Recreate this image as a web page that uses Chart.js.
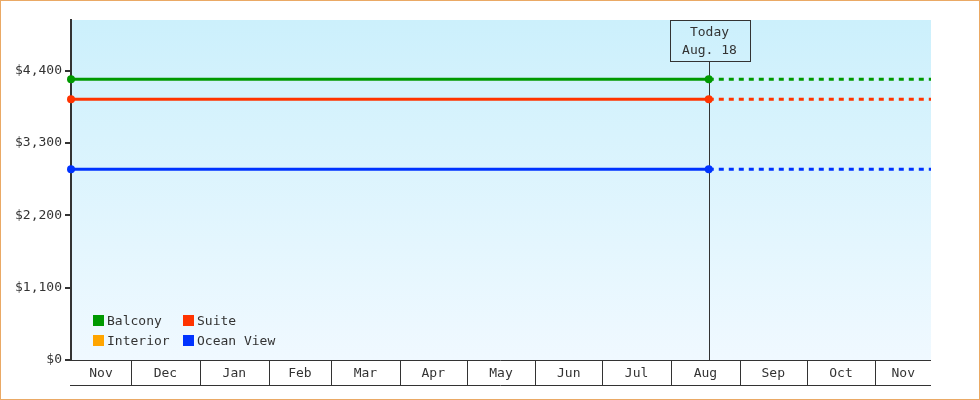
<!DOCTYPE html>
<html>
<head>
<meta charset="utf-8">
<script src="https://cdn.jsdelivr.net/npm/chart.js@4.4.1/dist/chart.umd.min.js"></script>
<style>
html, body { margin: 0; padding: 0; background: #fff; }
#wrap { width: 980px; height: 400px; box-sizing: border-box; border: 1px solid #eaa965; }
canvas { display: block; }
</style>
</head>
<body>
<div id="wrap"><canvas id="priceChart" width="978" height="398"></canvas></div>
<script>
// month strip along the bottom
const monthLabels = ['Nov', 'Dec', 'Jan', 'Feb', 'Mar', 'Apr', 'May', 'Jun', 'Jul', 'Aug', 'Sep', 'Oct', 'Nov'];
const monthStarts = ['2024-11-01', '2024-12-01', '2025-01-01', '2025-02-01', '2025-03-01', '2025-04-01',
    '2025-05-01', '2025-06-01', '2025-07-01', '2025-08-01', '2025-09-01', '2025-10-01', '2025-11-01'];

const rangeStart = '2024-11-04';
const todayDate = '2025-08-18';
const rangeEnd = '2025-11-26';
const todayLabel = ['Today', 'Aug. 18'];

const seriesNames = ['Balcony', 'Suite', 'Interior', 'Ocean View'];
const seriesPrices = [4268, 3964, null, 2900];
const seriesColors = ['#009900', '#ff3300', '#ffa500', '#0033ff'];

const yTicks = [0, 1100, 2200, 3300, 4400];
const yMax = 5170;

const FONT = '13px "DejaVu Sans Mono", monospace';
const INK = '#333';

function dayNum(s) {
    const p = s.split('-').map(Number);
    return Date.UTC(p[0], p[1] - 1, p[2]) / 86400000;
}

const xMin = dayNum(rangeStart);
const xToday = dayNum(todayDate);
const xMax = dayNum(rangeEnd);

const datasets = seriesNames.map((name, i) => ({
    label: name,
    data: seriesPrices[i] == null ? [] : [
        { x: xMin, y: seriesPrices[i] },
        { x: xToday, y: seriesPrices[i] },
        { x: xMax, y: seriesPrices[i] }
    ],
    borderColor: seriesColors[i],
    backgroundColor: seriesColors[i],
    borderWidth: 3,
    pointRadius: [4, 4, 0],
    pointHoverRadius: 4,
    pointBorderWidth: 0,
    clip: false,
    segment: {
        borderDash: ctx => ctx.p0DataIndex >= 1 ? [5, 5] : undefined
    }
}));

const backdrop = {
    id: 'backdrop',
    beforeDraw(chart) {
        const { ctx, chartArea: a } = chart;
        const g = ctx.createLinearGradient(0, a.top, 0, a.bottom);
        g.addColorStop(0, '#ccf0fc');
        g.addColorStop(1, '#f0f9ff');
        ctx.save();
        ctx.fillStyle = g;
        ctx.fillRect(a.left, a.top, a.right - a.left, a.bottom - a.top);
        ctx.restore();
    },
    beforeDatasetsDraw(chart) {
        const { ctx, chartArea: a } = chart;
        const x = Math.round(chart.scales.x.getPixelForValue(xToday)) + 0.5;
        const boxW = 80, boxH = 41;
        ctx.save();
        ctx.strokeStyle = INK;
        ctx.lineWidth = 1;
        ctx.strokeRect(Math.round(x - boxW / 2) + 0.5, a.top + 0.5, boxW, boxH);
        ctx.beginPath();
        ctx.moveTo(x, a.top + boxH);
        ctx.lineTo(x, a.bottom);
        ctx.stroke();
        ctx.fillStyle = INK;
        ctx.font = FONT;
        ctx.textAlign = 'center';
        ctx.textBaseline = 'middle';
        ctx.fillText(todayLabel[0], x, a.top + 13);
        ctx.fillText(todayLabel[1], x, a.top + 31);
        ctx.restore();
    },
    afterDraw(chart) {
        const { ctx, chartArea: a } = chart;
        const xs = chart.scales.x;
        const stripH = 25;
        ctx.save();
        ctx.strokeStyle = INK;
        ctx.lineWidth = 1;
        ctx.beginPath();
        ctx.moveTo(a.left - 1, Math.round(a.bottom) + 0.5);
        ctx.lineTo(a.right, Math.round(a.bottom) + 0.5);
        ctx.moveTo(a.left - 1, Math.round(a.bottom + stripH) + 0.5);
        ctx.lineTo(a.right, Math.round(a.bottom + stripH) + 0.5);
        ctx.stroke();

        ctx.fillStyle = INK;
        ctx.font = FONT;
        ctx.textAlign = 'center';
        ctx.textBaseline = 'middle';
        monthStarts.forEach((m, i) => {
            const px = xs.getPixelForValue(dayNum(m));
            const next = i + 1 < monthStarts.length ? xs.getPixelForValue(dayNum(monthStarts[i + 1])) : a.right;
            if (px > a.left && px < a.right) {
                ctx.beginPath();
                ctx.moveTo(Math.round(px) + 0.5, a.bottom);
                ctx.lineTo(Math.round(px) + 0.5, a.bottom + stripH);
                ctx.stroke();
            }
            const l = Math.max(px, a.left), r = Math.min(next, a.right);
            ctx.fillText(monthLabels[i], (l + r) / 2, a.bottom + 14);
        });

        // legend, two columns inside the plot
        seriesNames.forEach((name, i) => {
            const col = i % 2, row = Math.floor(i / 2);
            const sx = a.left + 22 + col * 90;
            const sy = a.bottom - 45 + row * 20;
            ctx.fillStyle = seriesColors[i];
            ctx.fillRect(sx, sy, 11, 11);
            ctx.fillStyle = INK;
            ctx.textAlign = 'left';
            ctx.fillText(name, sx + 14, sy + 7);
        });
        ctx.restore();
    }
};

new Chart(document.getElementById('priceChart'), {
    type: 'line',
    data: { datasets },
    options: {
        responsive: false,
        animation: false,
        devicePixelRatio: 1,
        layout: { padding: { top: 19, right: 48, bottom: 39, left: 0 } },
        plugins: { legend: { display: false }, tooltip: { enabled: false } },
        scales: {
            x: {
                type: 'linear',
                display: false,
                min: xMin,
                max: xMax
            },
            y: {
                min: 0,
                max: yMax,
                afterFit: s => { s.width = 70; },
                afterBuildTicks: s => { s.ticks = yTicks.map(v => ({ value: v })); },
                border: { display: true, color: INK, width: 2 },
                grid: { drawOnChartArea: false, color: INK, lineWidth: 2, tickLength: 6 },
                ticks: {
                    padding: 3,
                    color: INK,
                    font: { family: '"DejaVu Sans Mono", monospace', size: 13 },
                    callback: v => '$' + v.toLocaleString('en-US')
                }
            }
        }
    },
    plugins: [backdrop]
});
</script>
</body>
</html>
